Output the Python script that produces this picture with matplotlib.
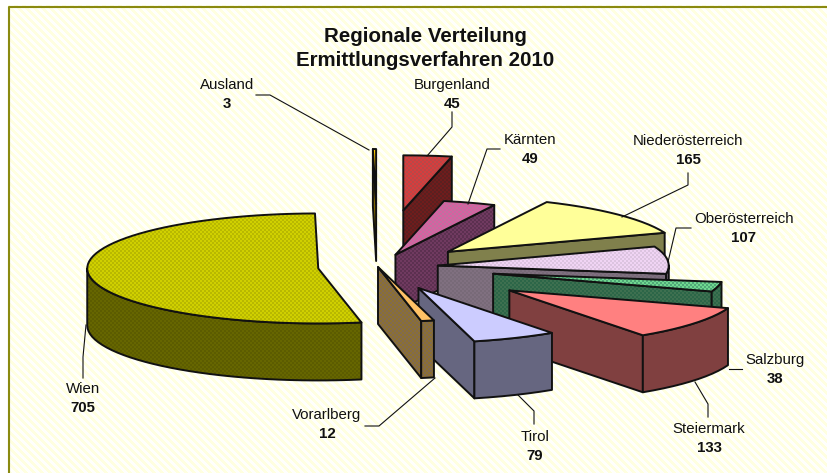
import numpy as np
import matplotlib
matplotlib.use("Agg")
import matplotlib.pyplot as plt
from matplotlib.patches import Polygon

# ---------- data ----------
regions = ["Burgenland", "Kärnten", "Niederösterreich", "Oberösterreich", "Salzburg",
           "Steiermark", "Tirol", "Vorarlberg", "Wien", "Ausland"]
cases = [45, 49, 165, 107, 38, 133, 79, 12, 705, 3]
explode = [1.036, 0.235, 0.41, 0.26, 0.513, 0.71, 0.42, 0.0, 0.26, 1.145]

# ---------- styles ----------
top_a = ["#D83C3C", "#D860A0", "#FFFF99", "#F0D4F4", "#70D890", "#FF8080", "#CCCCFF", "#FFC266", "#D0D000", "#FFCC00"]
top_b = ["#B84848", "#C070A0", "#FFFF99", "#DCC4E0", "#50A878", "#FF8080", "#CCCCFF", "#FFC266", "#B8B800", "#FFCC00"]
side_a = ["#701C1C", "#703A60", "#80804C", "#807080", "#2C6648", "#804040", "#666680", "#806A50", "#666600", "#806600"]
side_b = ["#5A2020", "#5C3050", "#80804C", "#786A78", "#3E7050", "#804040", "#666680", "#8C7030", "#5C5C00", "#806600"]

W, H = 827, 473
CX, CY = 378, 267
R, RY, DEPTH = 231, 55, 57

plt.rcParams["font.family"] = ["Liberation Sans", "DejaVu Sans"]
fig = plt.figure(figsize=(W / 100, H / 100), dpi=100)
ax = fig.add_axes([0, 0, 1, 1])
ax.axis("off")

yy, xx = np.mgrid[0:H, 0:W]


def rgb(c):
    return np.array(matplotlib.colors.to_rgb(c))


def texture(c1, c2):
    mask = ((xx // 2 + yy // 2) % 2 == 0)[..., None]
    return mask * rgb(c1) + (~mask) * rgb(c2)


layer = [2.0]


def next_z():
    layer[0] += 0.001
    return layer[0]


def fill(pts, c1, c2):
    im = ax.imshow(texture(c1, c2), extent=(0, W, H, 0), interpolation="nearest", aspect="auto", zorder=next_z())
    p = Polygon(pts, closed=True, transform=ax.transData, facecolor="none", edgecolor="none")
    ax.add_patch(p)
    im.set_clip_path(p)
    ax.add_patch(Polygon(pts, closed=True, facecolor="none", edgecolor="#111111", lw=1.4, zorder=next_z(), joinstyle="round"))


# background
stripes = (((xx - yy) % 8) < 4)[..., None]
bg = stripes * rgb("#FFFFE0") + (~stripes) * rgb("#FFFFFC")
outside = (xx < 8) | (yy < 6)
bg[outside] = 1.0
ax.imshow(bg, extent=(0, W, H, 0), interpolation="nearest", aspect="auto", zorder=0)
ax.set_xlim(0, W)
ax.set_ylim(H, 0)
ax.plot([8.5, 8.5, W], [H, 7, 7], color="#8A8A10", lw=1.5, zorder=1, solid_capstyle="butt")

fracs = np.array(cases, dtype=float) / sum(cases)
ends = np.cumsum(fracs) * 2 * np.pi
starts = ends - fracs * 2 * np.pi


def P(c, t):
    return c[0] + R * np.sin(t), c[1] - RY * np.cos(t)


for i in range(len(cases)):
    t0, t1 = starts[i], ends[i]
    mid = (t0 + t1) / 2
    c = (CX + explode[i] * R * np.sin(mid), CY - explode[i] * RY * np.cos(mid))
    ts = np.linspace(t0, t1, max(4, int((t1 - t0) / 0.05)))
    rim = np.array([P(c, t) for t in ts])
    faces = []
    # visible cut faces
    if t1 < np.pi:
        q = P(c, t1)
        faces.append([c, q, (q[0], q[1] + DEPTH), (c[0], c[1] + DEPTH)])
    if t0 > np.pi:
        q = P(c, t0)
        faces.append([c, q, (q[0], q[1] + DEPTH), (c[0], c[1] + DEPTH)])
    # visible outer wall
    a, b = max(t0, np.pi / 2), min(t1, 1.5 * np.pi)
    if b > a:
        tw = np.linspace(a, b, max(4, int((b - a) / 0.05)))
        w = np.array([P(c, t) for t in tw])
        faces.append(np.vstack([w, (w[::-1] + [0, DEPTH])]))
    for f in faces:
        fill(np.array(f), side_a[i], side_b[i])
    fill(np.vstack([[c], rim]), top_a[i], top_b[i])

ax.set_xlim(0, W)
ax.set_ylim(H, 0)

# ---------- text ----------
label_xy = [(452, 85), (530, 140), (688, 141), (744, 219), (775, 360),
            (709, 429), (535, 437), (327, 415), (83, 389), (227, 85)]
for name, v, (x, y) in zip(regions, cases, label_xy):
    ax.text(x, y, name, ha="center", va="center", fontsize=10.8, color="#111111", zorder=10)
    ax.text(x, y + 19, str(v), ha="center", va="center", fontsize=10.8, fontweight="bold", color="#111111", zorder=10)

ax.text(425, 36, "Regionale Verteilung", ha="center", va="center", fontsize=14.8, fontweight="bold", color="#111111", zorder=10)
ax.text(425, 60, "Ermittlungsverfahren 2010", ha="center", va="center", fontsize=14.8, fontweight="bold", color="#111111", zorder=10)

leaders = [
    ([452, 452, 427], [112, 127, 156]),
    ([500, 487, 468], [149, 149, 204]),
    ([688, 688, 622], [173, 185, 217]),
    ([691, 676, 668], [228, 228, 262]),
    ([742, 729], [369, 369]),
    ([695, 708, 708], [382, 404, 417]),
    ([518, 534, 534], [395, 411, 424]),
    ([435, 379, 365], [378, 426, 426]),
    ([86, 83, 83], [325, 357, 378]),
    ([256, 270, 369], [95, 95, 150]),
]
for lx, ly in leaders:
    ax.plot(lx, ly, color="#111111", lw=0.8, zorder=9)

fig.savefig("out.png", dpi=100)
